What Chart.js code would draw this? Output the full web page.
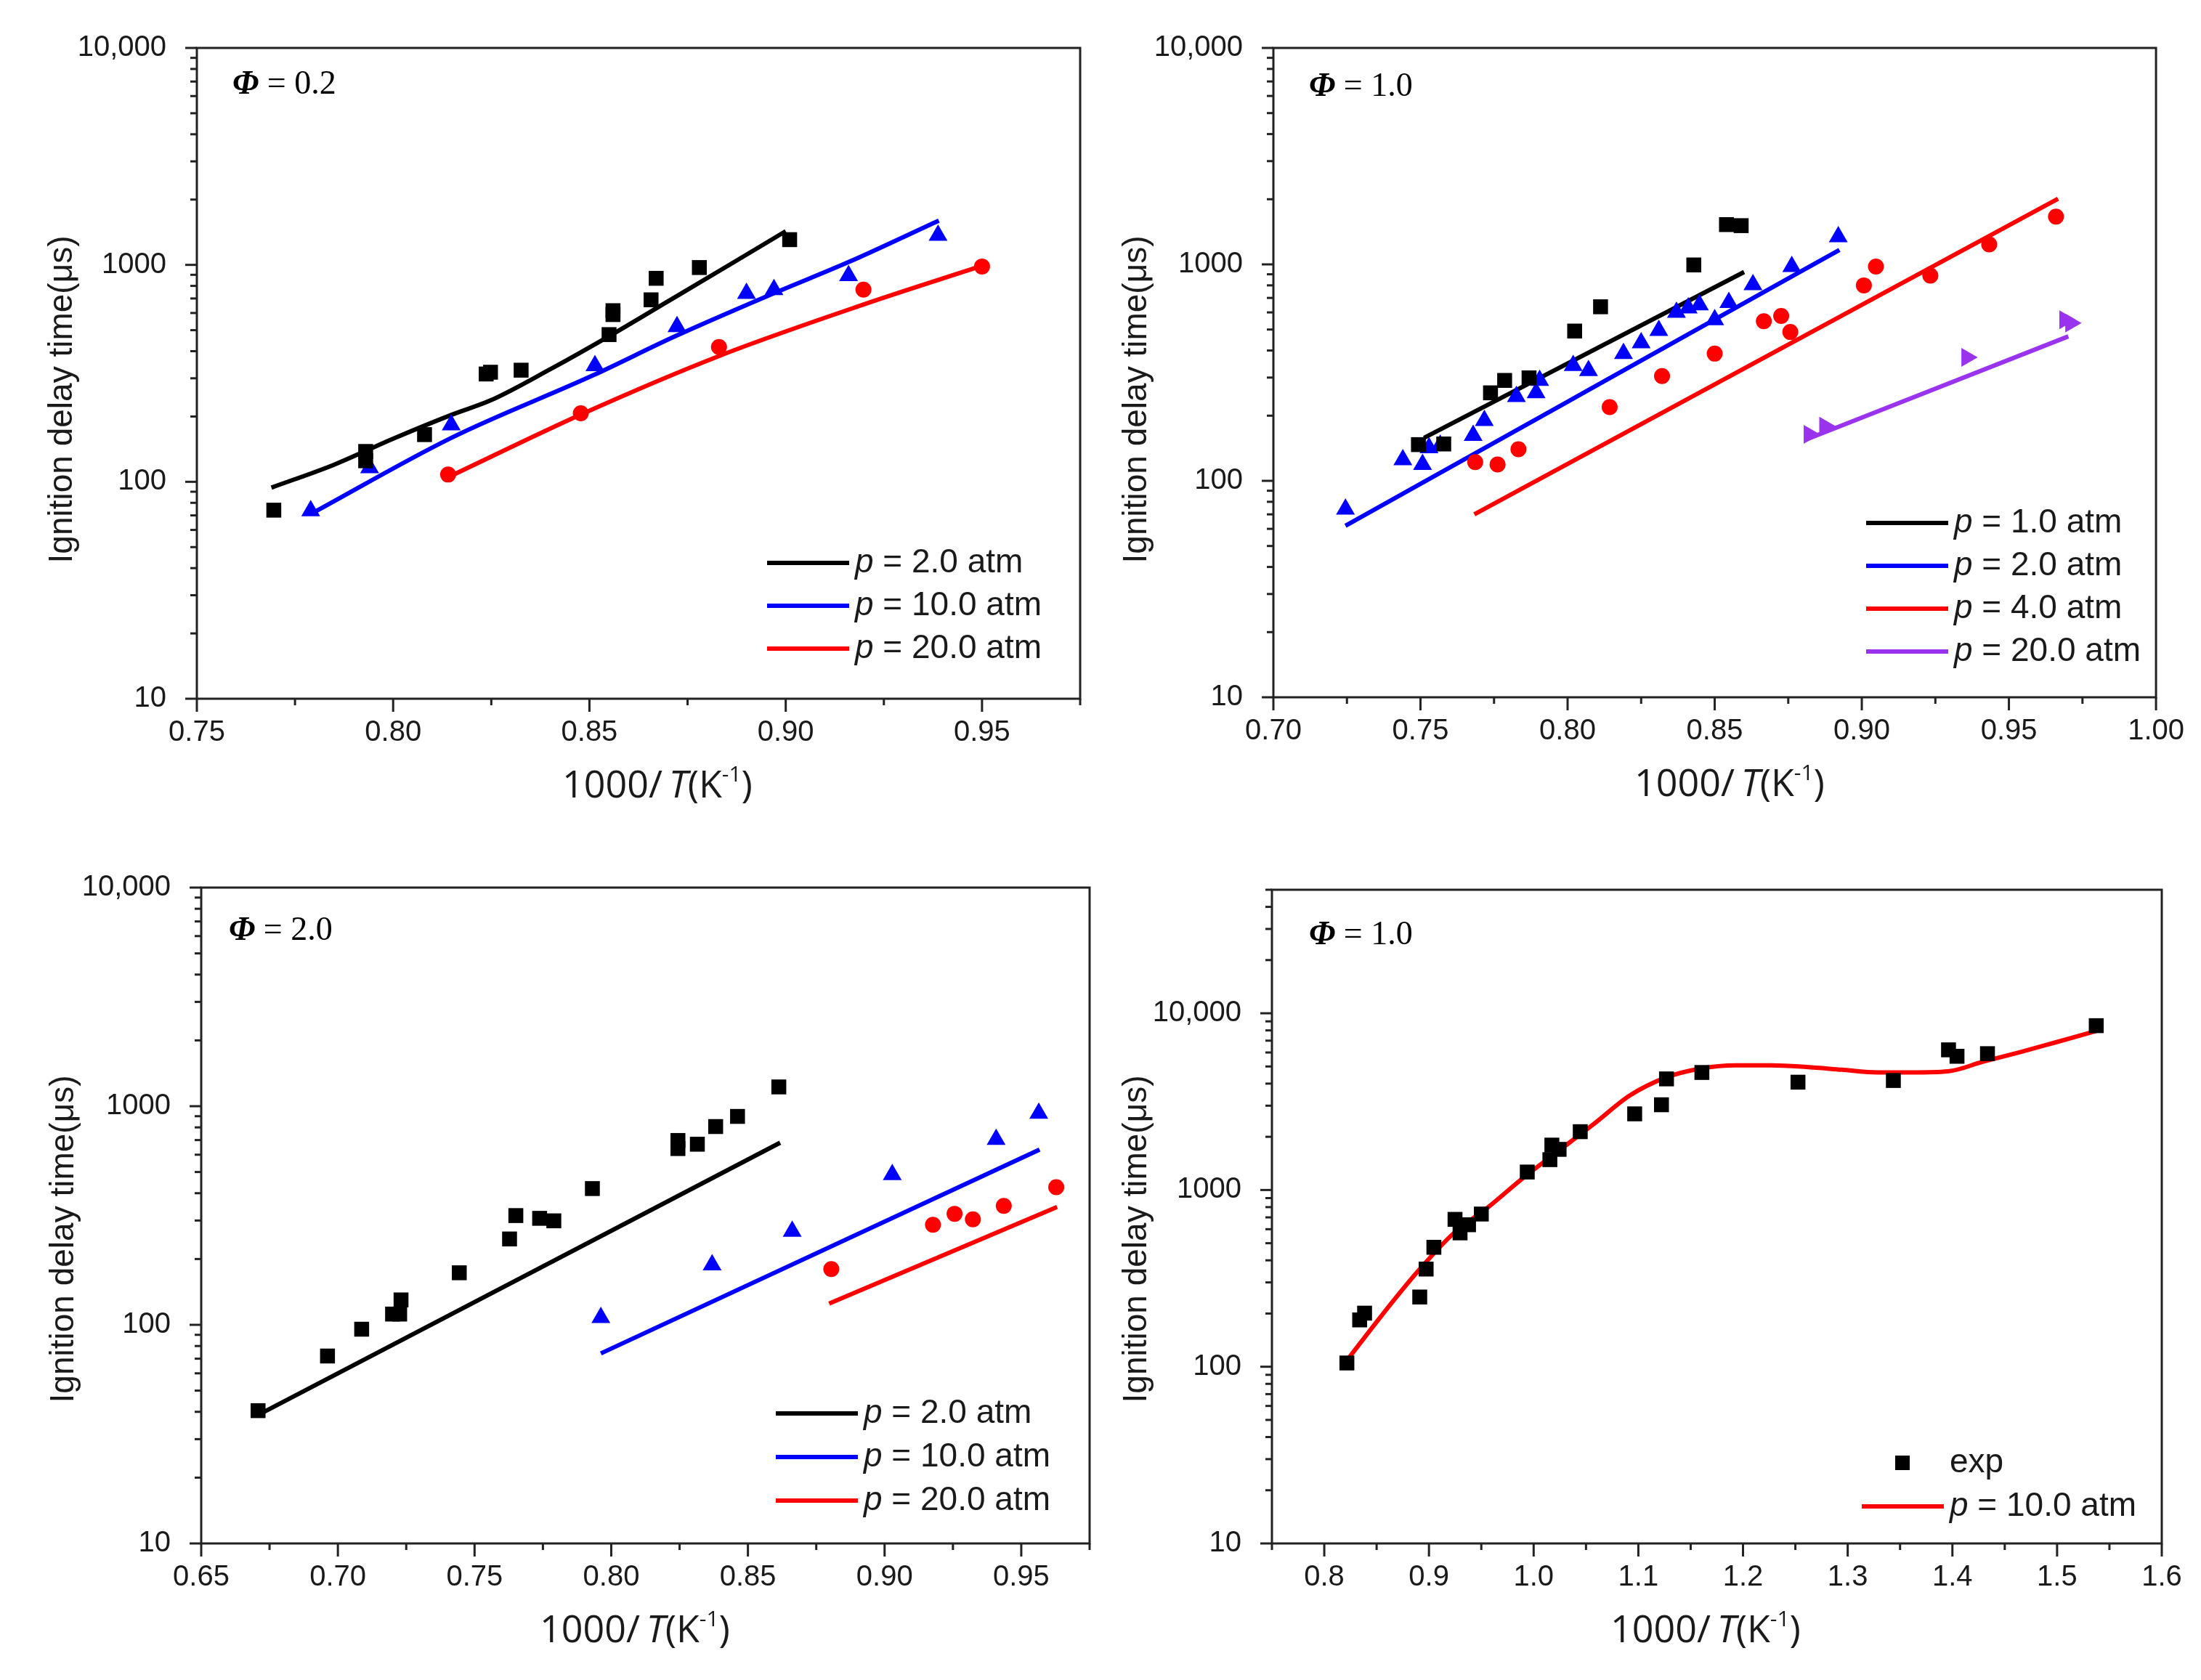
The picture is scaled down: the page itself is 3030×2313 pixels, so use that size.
<!DOCTYPE html>
<html>
<head>
<meta charset="utf-8">
<script src="https://cdn.jsdelivr.net/npm/chart.js@4.4.1/dist/chart.umd.min.js"></script>
<style>
  html, body { margin: 0; padding: 0; background: #fff; }
  #wrap { position: relative; width: 3030px; height: 2313px; }
  canvas { position: absolute; }
</style>
</head>
<body>
<div id="wrap">
  <canvas id="c1" width="1515" height="1156" style="left:0px;top:0px"></canvas>
  <canvas id="c2" width="1515" height="1156" style="left:1515px;top:0px"></canvas>
  <canvas id="c3" width="1515" height="1157" style="left:0px;top:1156px"></canvas>
  <canvas id="c4" width="1515" height="1157" style="left:1515px;top:1156px"></canvas>
</div>
<script>
// ---- data: phi = 0.2 ----
const p1Exp2X  = [0.7696, 0.793, 0.793, 0.808, 0.8237, 0.8248, 0.8326, 0.855, 0.856, 0.856, 0.8657, 0.867, 0.878, 0.901];
const p1Exp2Y  = [74, 138, 125, 165, 314, 320, 327, 477, 590, 615, 690, 867, 972, 1307];
const p1Exp10X = [0.779, 0.794, 0.8148, 0.8514, 0.8723, 0.890, 0.897, 0.916, 0.9388];
const p1Exp10Y = [73.5, 116, 183, 343, 519, 739, 769, 892, 1368];
const p1Exp20X = [0.814, 0.8478, 0.883, 0.9198, 0.950];
const p1Exp20Y = [108, 207, 418, 769, 983];
const p1Mod2X  = [0.769, 0.785, 0.80, 0.815, 0.825, 0.84, 0.855, 0.87, 0.885, 0.90];
const p1Mod2Y  = [94, 120, 158, 204, 238, 330, 469, 679, 984, 1430];
const p1Mod10X = [0.779, 0.815, 0.851, 0.872, 0.897, 0.916, 0.939];
const p1Mod10Y = [71, 160, 310, 470, 740, 1030, 1600];
const p1Mod20X = [0.814, 0.848, 0.883, 0.92, 0.95];
const p1Mod20Y = [105, 205, 380, 658, 990];

// ---- data: phi = 1.0 ----
const p2Exp1X  = [0.7493, 0.7579, 0.7738, 0.7786, 0.7869, 0.8024, 0.8112, 0.8429, 0.854, 0.859];
const p2Exp1Y  = [147, 148, 255, 291, 299, 492, 637, 994, 1527, 1510];
const p2Exp2X  = [0.7245, 0.744, 0.7507, 0.7529, 0.7567, 0.7679, 0.7717, 0.7826, 0.7893, 0.7905, 0.8019, 0.8071, 0.819, 0.825, 0.831, 0.837, 0.841, 0.8448, 0.85, 0.8548, 0.863, 0.8762, 0.892];
const p2Exp2Y  = [74, 125, 119, 142, 146, 162, 190, 245, 255, 291, 341, 323, 387, 434, 495, 601, 629, 650, 555, 667, 805, 977, 1340];
const p2Exp4X  = [0.7686, 0.7762, 0.7833, 0.8143, 0.8321, 0.85, 0.8667, 0.8726, 0.8757, 0.9007, 0.9048, 0.9233, 0.9433, 0.966];
const p2Exp4Y  = [122, 119, 140, 219, 305, 387, 546, 578, 487, 800, 977, 887, 1236, 1663];
const p2Exp20X = [0.8821, 0.8874, 0.9357, 0.969, 0.971];
const p2Exp20Y = [164, 179, 372, 555, 536];
const p2Mod1X  = [0.7512, 0.86];
const p2Mod1Y  = [158, 922];
const p2Mod2X  = [0.7245, 0.80, 0.85, 0.8924];
const p2Mod2Y  = [62, 232, 556, 1167];
const p2Mod4X  = [0.7683, 0.9667];
const p2Mod4Y  = [70, 2009];
const p2Mod20X = [0.881, 0.9702];
const p2Mod20Y = [155, 465];

// ---- data: phi = 2.0 ----
const p3Exp2X  = [0.6708, 0.6962, 0.7087, 0.72, 0.7226, 0.7231, 0.7444, 0.7628, 0.7651, 0.7738, 0.779, 0.7931, 0.8244, 0.8244, 0.8315, 0.8382, 0.8462, 0.8613];
const p3Exp2Y  = [40.5, 72, 95.5, 112, 112, 130, 173, 247, 316, 307, 299, 420, 640, 697, 670, 807, 898, 1225];
const p3Exp10X = [0.7962, 0.8369, 0.8662, 0.9028, 0.9408, 0.9564];
const p3Exp10Y = [108, 188, 268, 486, 705, 929];
const p3Exp20X = [0.8805, 0.9177, 0.9256, 0.9323, 0.9436, 0.9628];
const p3Exp20Y = [180, 287, 322, 304, 350, 426];
const p3Mod2X  = [0.6708, 0.8618];
const p3Mod2Y  = [38.7, 681];
const p3Mod10X = [0.7962, 0.9567];
const p3Mod10Y = [74, 633];
const p3Mod20X = [0.8797, 0.9631];
const p3Mod20Y = [125, 346];

// ---- data: phi = 1.0, 10 atm, wide range ----
const p4ExpX = [0.8216, 0.8338, 0.8385, 0.8912, 0.8973, 0.9047, 0.9249, 0.9297, 0.9378, 0.95, 0.9939, 1.0155, 1.0174, 1.0243, 1.0445, 1.0965, 1.1221, 1.1269, 1.1607, 1.2525, 1.3436, 1.3963, 1.4044, 1.4335, 1.5374];
const p4ExpY = [105, 184, 201, 248, 357, 474, 682, 572, 636, 731, 1264, 1485, 1795, 1698, 2138, 2697, 3036, 4253, 4624, 4075, 4165, 6210, 5710, 5910, 8510];
const p4ModX = [0.8216, 0.8554, 0.8891, 0.9229, 0.9567, 0.9905, 1.0243, 1.058, 1.0918, 1.1256, 1.1593, 1.1931, 1.2269, 1.2607, 1.2944, 1.3282, 1.362, 1.3957, 1.4295, 1.4633, 1.497, 1.5374];
const p4ModY = [108.6, 197, 345, 564, 801, 1178, 1673, 2376, 3423, 4314, 4860, 5070, 5070, 4965, 4790, 4625, 4625, 4690, 5325, 5995, 6805, 7940];

const yLabelTicks = [10, 100, 1000, 10000];

const SANS = '"Liberation Sans", Arial, sans-serif';
const XT = '"Open Sans", "Noto Sans", sans-serif';
const SERIF = '"Liberation Serif", "Times New Roman", serif';
const BLACK = '#000000', BLUE = '#0000ff', RED = '#ff0000', PURPLE = '#9933ee';
const TXT = '#1a1a1a';

function pts(xs, ys) { return xs.map((x, i) => ({ x: x, y: ys[i] })); }

function expSet(xs, ys, color, style, r, rot) {
  return {
    data: pts(xs, ys), showLine: false, pointStyle: style, pointRadius: r,
    pointRotation: rot || 0, backgroundColor: color, borderColor: color, borderWidth: 0
  };
}
function modSet(xs, ys, color, smooth) {
  return {
    data: pts(xs, ys), showLine: true, pointRadius: 0, borderColor: color, borderWidth: 6,
    fill: false, tension: smooth ? 0.4 : 0, cubicInterpolationMode: smooth ? 'monotone' : 'default'
  };
}

// mixed-font text: parts = [text, font, dy]
function rich(ctx, parts, x, y, align) {
  let w = 0;
  parts.forEach(p => { ctx.font = p[1]; w += ctx.measureText(p[0]).width; });
  let cx = align === 'center' ? x - w / 2 : x;
  ctx.textAlign = 'left';
  ctx.textBaseline = 'middle';
  parts.forEach(p => {
    ctx.font = p[1];
    ctx.fillText(p[0], cx, y + (p[2] || 0));
    cx += ctx.measureText(p[0]).width;
  });
}

const decor = {
  id: 'decor',
  afterDraw(chart, args, o) {
    const ctx = chart.ctx, a = chart.chartArea;
    const xs = chart.scales.x, ys = chart.scales.y;
    ctx.save();
    ctx.strokeStyle = '#222';
    ctx.lineWidth = 3;
    // x tick marks
    const nx = Math.round((o.xMax - o.xMin) / o.xMinor);
    for (let i = 0; i <= nx; i++) {
      const v = o.xMin + i * o.xMinor;
      const major = Math.abs(v / o.xMajor - Math.round(v / o.xMajor)) < 1e-6;
      const px = xs.getPixelForValue(v);
      ctx.beginPath();
      ctx.moveTo(px, a.bottom);
      ctx.lineTo(px, a.bottom + (major ? 18 : 9));
      ctx.stroke();
    }
    // y tick marks (log)
    for (let e = 1; e <= 5; e++) {
      for (let m = 1; m <= 9; m++) {
        const v = m * Math.pow(10, e);
        if (v > o.yMax * 1.0001) continue;
        const py = ys.getPixelForValue(v);
        ctx.beginPath();
        ctx.moveTo(a.left, py);
        ctx.lineTo(a.left - (m === 1 ? 16 : 9), py);
        ctx.stroke();
      }
    }
    ctx.strokeRect(a.left, a.top, a.right - a.left, a.bottom - a.top);

    ctx.fillStyle = '#000';
    rich(ctx, [['Φ', 'italic bold 46px ' + SERIF], [' = ' + o.phi, '46px ' + SERIF]], o.phiX, o.phiY, 'left');

    ctx.fillStyle = TXT;
    rich(ctx, [
      ['1000/', '52px ' + XT],
      ['\u2009T', 'italic 52px ' + XT],
      ['(K', '52px ' + XT],
      ['-1', '30px ' + XT, -16],
      [')', '52px ' + XT]
    ], o.xtX, a.bottom + 121, 'center');

    ctx.save();
    ctx.translate(o.ytX, o.ytY);
    ctx.rotate(-Math.PI / 2);
    ctx.font = '46px ' + SANS;
    ctx.textAlign = 'center';
    ctx.textBaseline = 'middle';
    ctx.fillText('Ignition delay time(μs)', 0, 0);
    ctx.restore();

    // legend
    const lg = o.legend;
    lg.items.forEach((it, i) => {
      const y = lg.y + i * lg.dy;
      if (it.kind === 'line') {
        ctx.strokeStyle = it.color;
        ctx.lineWidth = 6;
        ctx.beginPath();
        ctx.moveTo(lg.x, y);
        ctx.lineTo(lg.x + 113, y);
        ctx.stroke();
      } else {
        ctx.fillStyle = it.color;
        ctx.fillRect(lg.x + 46, y - 10, 20, 20);
      }
      ctx.fillStyle = TXT;
      rich(ctx, it.text, lg.x + 121, y, 'left');
    });
    ctx.restore();
  }
};

function pLabel(rest) {
  return [['p', 'italic 46px ' + SANS], [rest, '46px ' + SANS]];
}

function makeChart(id, W, H, area, xr, yMax, datasets, extra) {
  const majors = [];
  for (let k = Math.ceil(xr.min / xr.major - 1e-6); k <= Math.floor(xr.max / xr.major + 1e-6); k++) {
    majors.push(+(k * xr.major).toFixed(4));
  }
  return new Chart(document.getElementById(id), {
    type: 'scatter',
    data: { datasets: datasets },
    plugins: [decor],
    options: {
      responsive: false,
      animation: false,
      devicePixelRatio: 1,
      layout: { padding: { left: 0, top: area.t, right: W - area.r, bottom: 0 } },
      plugins: {
        legend: { display: false },
        tooltip: { enabled: false },
        decor: Object.assign({ xMin: xr.min, xMax: xr.max, xMajor: xr.major, xMinor: xr.minor, yMax: yMax }, extra)
      },
      scales: {
        x: {
          type: 'linear', min: xr.min, max: xr.max,
          grid: { display: false, drawTicks: false },
          border: { display: false },
          afterBuildTicks: s => { s.ticks = majors.map(v => ({ value: v })); },
          afterFit: s => { s.height = H - area.b; },
          ticks: {
            autoSkip: false, maxRotation: 0, padding: 23, color: TXT,
            font: { family: SANS, size: 40 },
            callback: v => Number(v).toFixed(xr.dec)
          }
        },
        y: {
          type: 'logarithmic', min: 10, max: yMax,
          grid: { display: false, drawTicks: false },
          border: { display: false },
          afterBuildTicks: s => { s.ticks = yLabelTicks.map(v => ({ value: v })); },
          afterFit: s => { s.width = area.l; },
          ticks: {
            autoSkip: false, padding: 42, color: TXT,
            font: { family: SANS, size: 40 },
            callback: v => v === 10000 ? '10,000' : String(v)
          }
        }
      }
    }
  });
}

const line = (color, rest) => ({ kind: 'line', color: color, text: pLabel(rest) });

makeChart('c1', 1515, 1156, { l: 271, t: 64, r: 1487, b: 962 },
  { min: 0.75, max: 0.975, major: 0.05, minor: 0.025, dec: 2 }, 10000, [
    expSet(p1Exp2X, p1Exp2Y, BLACK, 'rect', 14.5),
    expSet(p1Exp10X, p1Exp10Y, BLUE, 'triangle', 15),
    expSet(p1Exp20X, p1Exp20Y, RED, 'circle', 11),
    modSet(p1Mod2X, p1Mod2Y, BLACK, true),
    modSet(p1Mod10X, p1Mod10Y, BLUE, true),
    modSet(p1Mod20X, p1Mod20Y, RED, true)
  ], {
    phi: '0.2', phiX: 320, phiY: 117, xtX: 905, ytX: 86, ytY: 550,
    legend: { x: 1056, y: 775, dy: 59, items: [
      line(BLACK, ' = 2.0 atm'), line(BLUE, ' = 10.0 atm'), line(RED, ' = 20.0 atm')] }
  });

makeChart('c2', 1515, 1156, { l: 238, t: 63, r: 1459, b: 960 },
  { min: 0.70, max: 1.00, major: 0.05, minor: 0.025, dec: 2 }, 10000, [
    expSet(p2Exp1X, p2Exp1Y, BLACK, 'rect', 14.5),
    expSet(p2Exp2X, p2Exp2Y, BLUE, 'triangle', 15),
    expSet(p2Exp4X, p2Exp4Y, RED, 'circle', 11),
    expSet(p2Exp20X, p2Exp20Y, PURPLE, 'triangle', 15, 90),
    modSet(p2Mod1X, p2Mod1Y, BLACK, false),
    modSet(p2Mod2X, p2Mod2Y, BLUE, true),
    modSet(p2Mod4X, p2Mod4Y, RED, false),
    modSet(p2Mod20X, p2Mod20Y, PURPLE, false)
  ], {
    phi: '1.0', phiX: 287, phiY: 120, xtX: 866, ytX: 50, ytY: 550,
    legend: { x: 1054, y: 720, dy: 59, items: [
      line(BLACK, ' = 1.0 atm'), line(BLUE, ' = 2.0 atm'), line(RED, ' = 4.0 atm'), line(PURPLE, ' = 20.0 atm')] }
  });

makeChart('c3', 1515, 1157, { l: 277, t: 64, r: 1508, b: 969 },
  { min: 0.65, max: 0.975, major: 0.05, minor: 0.025, dec: 2 }, 10000, [
    expSet(p3Exp2X, p3Exp2Y, BLACK, 'rect', 14.5),
    expSet(p3Exp10X, p3Exp10Y, BLUE, 'triangle', 15),
    expSet(p3Exp20X, p3Exp20Y, RED, 'circle', 11),
    modSet(p3Mod2X, p3Mod2Y, BLACK, false),
    modSet(p3Mod10X, p3Mod10Y, BLUE, false),
    modSet(p3Mod20X, p3Mod20Y, RED, false)
  ], {
    phi: '2.0', phiX: 315, phiY: 126, xtX: 874, ytX: 88, ytY: 550,
    legend: { x: 1068, y: 790, dy: 60, items: [
      line(BLACK, ' = 2.0 atm'), line(BLUE, ' = 10.0 atm'), line(RED, ' = 20.0 atm')] }
  });

makeChart('c4', 1515, 1157, { l: 236, t: 69, r: 1461, b: 969 },
  { min: 0.75, max: 1.6, major: 0.1, minor: 0.05, dec: 1 }, 50000, [
    expSet(p4ExpX, p4ExpY, BLACK, 'rect', 14.5),
    modSet(p4ModX, p4ModY, RED, true)
  ], {
    phi: '1.0', phiX: 287, phiY: 132, xtX: 833, ytX: 50, ytY: 550,
    legend: { x: 1048, y: 858, dy: 60, items: [
      { kind: 'rect', color: BLACK, text: [['exp', '46px ' + SANS]] },
      line(RED, ' = 10.0 atm')] }
  });
</script>
</body>
</html>
